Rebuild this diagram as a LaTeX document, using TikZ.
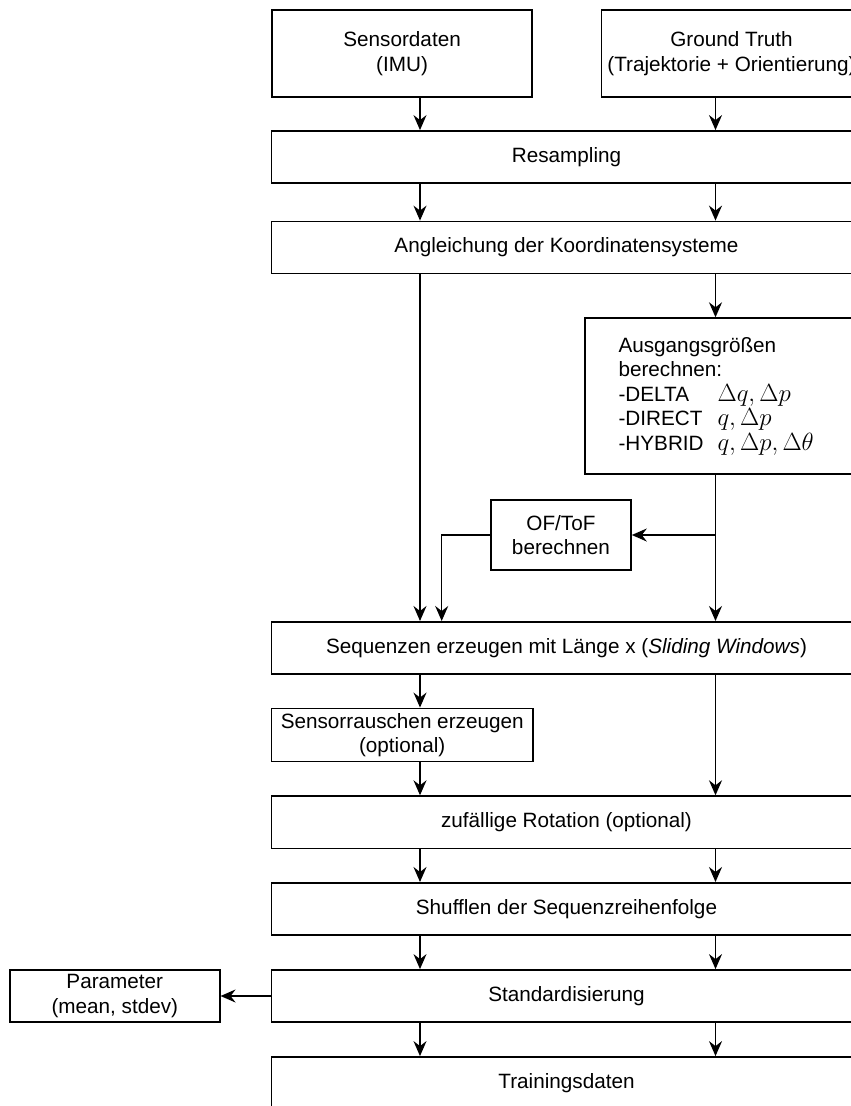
\documentclass[tikz,border=0pt]{standalone}
\usepackage[no-math]{fontspec}
\setmainfont{Liberation Sans}
\usepackage{amsmath}
\usetikzlibrary{arrows.meta}

\newcommand{\bigmath}[1]{{\fontsize{26.5}{24.5}\selectfont$#1$}}

\begin{document}
\begin{tikzpicture}[x=1pt,y=-1pt,
	font=\fontsize{20.7}{24.5}\selectfont,
	box/.style={draw, line width=1.5pt, minimum height=52.3pt, align=center, inner sep=2pt},
	wide/.style={box, minimum width=590.4pt},
	arr/.style={-{Stealth[length=15pt,width=13pt,inset=5pt]}, line width=1.5pt}]

			\useasboundingbox (0,0) rectangle (851,1106);
			\clip (0,0) rectangle (851,1106);

			% columns of the connectors
			\coordinate (l) at (420,0);
			\coordinate (r) at (715.5,0);
			\coordinate (m) at (441.7,0);
			\coordinate (split) at (715.5,535);

			\node[box, minimum width=260pt, minimum height=87pt] (sens) at (402.1,53.5) {Sensordaten\\(IMU)};
			\node[box, minimum width=260pt, minimum height=87pt] (gt) at (731.5,53.5) {Ground Truth\\(Trajektorie + Orientierung)};
			\node[wide] (resamp) at (566.5,157) {Resampling};
			\node[wide] (angl) at (566.5,247.5) {Angleichung der Koordinatensysteme};

			\node[box, anchor=north west, minimum width=277pt, minimum height=156pt, text width=210pt, align=left, inner xsep=33.4pt] (ausg) at (584.3,317.3) {Ausgangsgrößen\\
				berechnen:\\
				\makebox[99pt][l]{-DELTA}\bigmath{\Delta q, \Delta p}\\
				\makebox[99pt][l]{-DIRECT}\bigmath{q, \Delta p}\\
				\makebox[99pt][l]{-HYBRID}\bigmath{q, \Delta p, \Delta\theta}};
			\node[box, minimum width=140.3pt, minimum height=70pt] (oftof) at (560.9,535) {OF/ToF\\berechnen};

			\node[wide] (seq) at (566.5,647.9) {Sequenzen erzeugen mit Länge x (\textit{Sliding Windows})};
			\node[box, minimum width=261.6pt, minimum height=53.4pt, inner sep=1pt] (noise) at (402.2,735) {Sensorrauschen erzeugen\\(optional)};
			\node[wide] (rot) at (566.5,822.2) {zufällige Rotation (optional)};
			\node[wide] (shuf) at (566.5,908.9) {Shufflen der Sequenzreihenfolge};
			\node[wide] (std) at (566.5,996) {Standardisierung};
			\node[wide] (train) at (566.5,1083) {Trainingsdaten};
			\node[box, minimum width=210pt, minimum height=52pt] (param) at (114.8,996) {Parameter\\(mean, stdev)};

			\draw[arr] (sens.south -| l) -- (resamp.north -| l);
			\draw[arr] (gt.south -| r) -- (resamp.north -| r);
			\draw[arr] (resamp.south -| l) -- (angl.north -| l);
			\draw[arr] (resamp.south -| r) -- (angl.north -| r);
			\draw[arr] (angl.south -| l) -- (seq.north -| l);
			\draw[arr] (angl.south -| r) -- (ausg.north -| r);
			\draw[arr] (ausg.south -| r) -- (seq.north -| r);
			\draw[arr] (split) -- (oftof.east);
			\draw[arr] (oftof.west) -| (seq.north -| m);

			\draw[arr] (seq.south -| l) -- (noise.north -| l);
			\draw[arr] (noise.south -| l) -- (rot.north -| l);
			\draw[arr] (seq.south -| r) -- (rot.north -| r);

			\foreach \a/\b in {rot/shuf, shuf/std, std/train} {
				\draw[arr] (\a.south -| l) -- (\b.north -| l);
				\draw[arr] (\a.south -| r) -- (\b.north -| r);
			}
			\draw[arr] (std.west) -- (param.east);
		\end{tikzpicture}
\end{document}
